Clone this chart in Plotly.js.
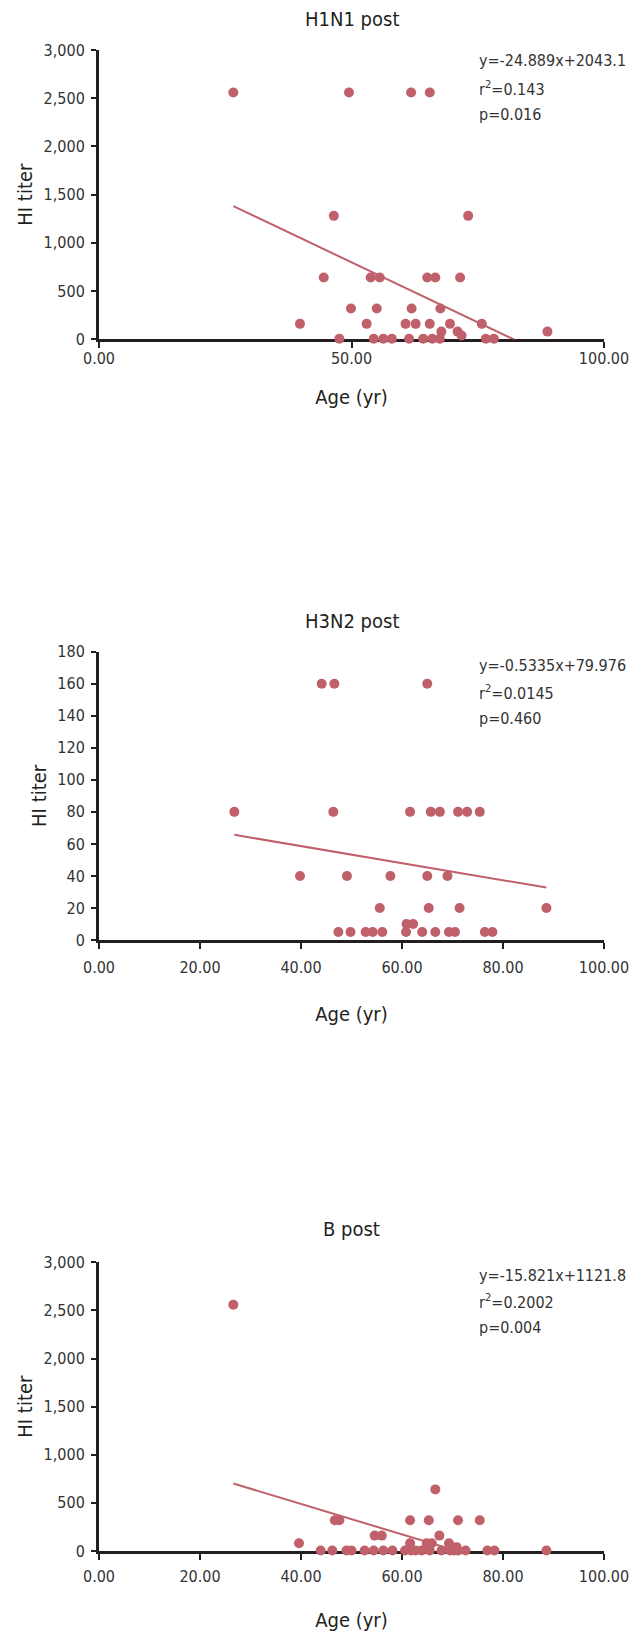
<!DOCTYPE html>
<html>
<head>
<meta charset="utf-8">
<script src="https://cdn.plot.ly/plotly-3.0.1.min.js"></script>
<style>html,body{margin:0;padding:0;background:#fff;}#chart{width:640px;height:1636px;}</style>
</head>
<body>
<div id="chart"></div>
<script>
// ---- Data ----
const panelTitles = ["H1N1 post", "H3N2 post", "B post"];

const h1n1Age = [26.6, 49.5, 61.8, 65.5, 46.5, 73.1, 44.5, 53.8, 55.6, 65.0, 66.6, 71.5,
  49.9, 55.0, 61.9, 67.6, 39.8, 53.0, 60.7, 62.7, 65.5, 69.5, 75.8, 88.8, 67.8, 71.0,
  71.8, 47.6, 54.4, 56.3, 58.0, 61.4, 64.2, 66.0, 67.5, 76.6, 78.2];
const h1n1Titer = [2560, 2560, 2560, 2560, 1280, 1280, 640, 640, 640, 640, 640, 640,
  320, 320, 320, 320, 160, 160, 160, 160, 160, 160, 160, 80, 80, 80,
  40, 5, 5, 5, 5, 5, 5, 5, 5, 5, 5];

const h3n2Age = [44.1, 46.6, 65.0, 26.8, 46.4, 61.6, 65.7, 67.5, 71.1, 72.9, 75.4,
  39.8, 49.1, 57.7, 65.0, 69.0, 55.6, 65.3, 71.4, 88.6, 60.9, 62.2,
  47.4, 49.8, 52.8, 54.2, 56.1, 60.8, 64.0, 66.6, 69.3, 70.5, 76.4, 77.9];
const h3n2Titer = [160, 160, 160, 80, 80, 80, 80, 80, 80, 80, 80,
  40, 40, 40, 40, 40, 20, 20, 20, 20, 10, 10,
  5, 5, 5, 5, 5, 5, 5, 5, 5, 5, 5, 5];

const bAge = [26.6, 66.6, 46.7, 47.6, 61.6, 65.3, 71.1, 75.4, 54.6, 56.0, 67.4,
  39.6, 61.6, 64.9, 65.9, 69.3, 69.8, 70.8,
  43.9, 46.2, 49.0, 50.0, 52.6, 54.4, 56.3, 58.1, 60.6, 61.8, 62.7, 63.9, 65.5,
  67.8, 69.5, 70.3, 71.1, 72.6, 76.9, 78.3, 88.6];
const bTiter = [2560, 640, 320, 320, 320, 320, 320, 320, 160, 160, 160,
  80, 80, 80, 80, 80, 40, 40,
  5, 5, 5, 5, 5, 5, 5, 5, 5, 5, 5, 5, 5,
  5, 5, 5, 5, 5, 5, 5, 5];

const slopes = [-24.889, -0.5335, -15.821];
const intercepts = [2043.1, 79.976, 1121.8];
const r2Labels = ["0.143", "0.0145", "0.2002"];
const pLabels = ["0.016", "0.460", "0.004"];
const yMax = [3000, 180, 3000];
const yDtick = [500, 20, 500];
const xDtick = [50, 20, 20];

// ---- Styling ----
const FONT = "DejaVu Sans Condensed, DejaVu Sans, Arial, sans-serif";
const INK = "#231f20";
const DOT = "#c0606a";

const ages = [h1n1Age, h3n2Age, bAge];
const titers = [h1n1Titer, h3n2Titer, bTiter];

// pixel geometry helpers (figure height 1636, margins t=50, b=85)
const H = 1636, MT = 50, MB = 85;
const PH = H - MT - MB;
const py = p => (H - MB - p) / PH;

const domains = [[py(339.3), 1], [py(940), py(651.7)], [0, py(1262.3)]];
const axisTop = [50, 651.7, 1262.3];
const titleY = [19, 621, 1229];
const annOff = [[10.5, 38, 65], [14, 40.5, 66.5], [13, 39.5, 65.5]];
const xTickStandoff = [-4, 5, 3];
const xTitleStandoff = [24, 31, 28];

const data = [];
const layout = {
  width: 640, height: 1636,
  margin: {l: 99, r: 36, t: MT, b: MB},
  paper_bgcolor: "#fff", plot_bgcolor: "#fff",
  showlegend: false,
  font: {family: FONT, color: INK, size: 16},
  annotations: []
};

for (let i = 0; i < 3; i++) {
  const xa = i === 0 ? "x" : "x" + (i + 1);
  const ya = i === 0 ? "y" : "y" + (i + 1);
  const xKey = i === 0 ? "xaxis" : "xaxis" + (i + 1);
  const yKey = i === 0 ? "yaxis" : "yaxis" + (i + 1);
  const xs = ages[i];
  const xmin = Math.min(...xs), xmax = Math.max(...xs);
  data.push({
    type: "scatter", mode: "lines", xaxis: xa, yaxis: ya,
    x: [xmin, xmax],
    y: [slopes[i] * xmin + intercepts[i], slopes[i] * xmax + intercepts[i]],
    line: {color: DOT, width: 2}, hoverinfo: "skip"
  });
  data.push({
    type: "scatter", mode: "markers", xaxis: xa, yaxis: ya,
    x: xs, y: titers[i], cliponaxis: false,
    marker: {color: DOT, size: 10, line: {width: 0}}
  });
  layout[xKey] = {
    domain: [0, 1], anchor: ya, range: [0, 100], dtick: xDtick[i], tick0: 0,
    tickformat: ".2f", showgrid: false, zeroline: false,
    showline: true, linecolor: INK, linewidth: 3,
    ticks: "outside", ticklen: 6, tickwidth: 2, tickcolor: INK,
    ticklabelstandoff: xTickStandoff[i],
    tickfont: {family: FONT, size: 16, color: "#333"},
    layer: "below traces", fixedrange: true,
    title: {text: "Age (yr)", font: {family: FONT, size: 20, color: INK}, standoff: xTitleStandoff[i]}
  };
  layout[yKey] = {
    domain: domains[i], anchor: xa, range: [0, yMax[i]], dtick: yDtick[i], tick0: 0,
    tickformat: ",d", showgrid: false, zeroline: false,
    showline: true, linecolor: INK, linewidth: 3,
    ticks: "outside", ticklen: 5, tickwidth: 2, tickcolor: INK,
    ticklabelstandoff: 3,
    tickfont: {family: FONT, size: 16, color: "#333"},
    layer: "below traces", fixedrange: true,
    title: {text: "HI titer", font: {family: FONT, size: 20, color: INK}, standoff: 6}
  };
  layout.annotations.push({
    text: panelTitles[i], xref: "paper", yref: "paper", x: 0.5, y: py(titleY[i]),
    xanchor: "center", yanchor: "middle", showarrow: false,
    font: {family: FONT, size: 20, color: INK}
  });
  const lines = [
    "y=" + slopes[i] + "x+" + intercepts[i],
    "r<sup>2</sup>=" + r2Labels[i],
    "p=" + pLabels[i]
  ];
  lines.forEach((t, k) => {
    layout.annotations.push({
      text: t, xref: "paper", yref: "paper", x: 0.748, y: py(axisTop[i] + annOff[i][k]),
      xanchor: "left", yanchor: "middle", showarrow: false,
      font: {family: FONT, size: 16, color: "#333"}
    });
  });
}

Plotly.newPlot("chart", data, layout, {staticPlot: true, displayModeBar: false});
</script>
</body>
</html>
